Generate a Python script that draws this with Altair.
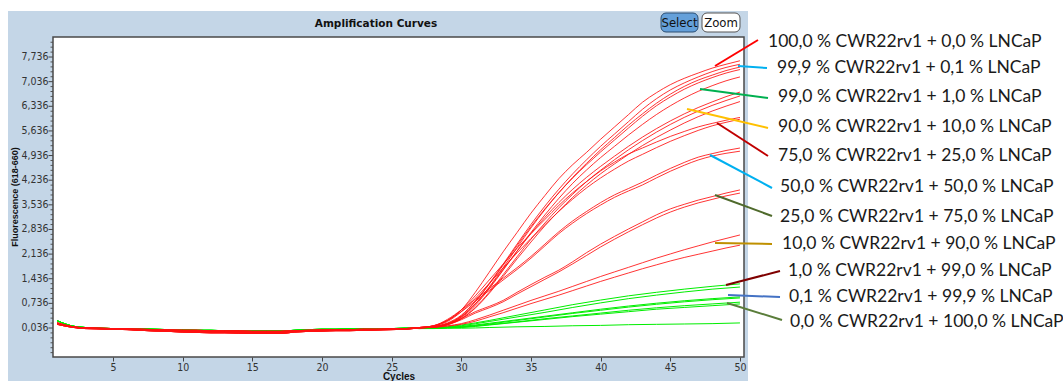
import altair as alt
import pandas as pd

# ---------------- data ----------------
cyc_base = list(range(1, 27))
cyc_red_tail = list(range(27, 51))
cyc_green_tail = [27, 28, 29, 30, 32, 34, 36, 38, 40, 42, 44, 46, 48, 50]

base_red_a = [0.18, 0.08, 0.04, 0.03, 0.02, 0.01, 0.0, -0.01, -0.02, -0.03, -0.03, -0.04, -0.05,
              -0.05, -0.06, -0.06, -0.06, -0.04, -0.03, -0.02, -0.01, -0.01, 0.0, 0.0, 0.01, 0.02]
base_red_b = [0.14, 0.06, 0.02, 0.01, 0.0, -0.01, -0.03, -0.05, -0.06, -0.08, -0.09, -0.1, -0.1,
              -0.11, -0.12, -0.12, -0.12, -0.08, -0.06, -0.05, -0.04, -0.04, -0.03, -0.02, -0.01, 0.0]
base_red_c = [0.16, 0.07, 0.03, 0.02, 0.01, 0.0, -0.02, -0.03, -0.04, -0.05, -0.06, -0.07, -0.07,
              -0.08, -0.09, -0.09, -0.09, -0.06, -0.05, -0.04, -0.03, -0.02, -0.02, -0.01, 0.0, 0.01]
base_green = [0.24, 0.1, 0.05, 0.03, 0.02, 0.02, 0.01, 0.0, -0.01, -0.02, -0.03, -0.03, -0.04,
              -0.04, -0.05, -0.05, -0.05, -0.03, -0.01, 0.0, 0.0, 0.01, 0.01, 0.02, 0.02, 0.03]

red_T1 = [0.05, 0.1, 0.25, 0.55, 1.05, 1.62, 2.2, 2.75, 3.3, 3.8, 4.28, 4.68, 5.03, 5.4, 5.75, 6.1, 6.45, 6.72, 6.95, 7.13, 7.28, 7.42, 7.53, 7.63]
red_T2 = [0.04, 0.08, 0.18, 0.4, 0.8, 1.3, 1.85, 2.42, 2.98, 3.5, 3.98, 4.42, 4.82, 5.2, 5.55, 5.9, 6.25, 6.55, 6.8, 7.0, 7.17, 7.32, 7.44, 7.53]
red_T3 = [0.04, 0.07, 0.15, 0.35, 0.72, 1.2, 1.75, 2.32, 2.88, 3.4, 3.88, 4.32, 4.72, 5.1, 5.45, 5.8, 6.12, 6.42, 6.68, 6.9, 7.08, 7.22, 7.35, 7.45]
red_T4 = [0.05, 0.07, 0.16, 0.38, 0.78, 1.28, 1.82, 2.38, 2.92, 3.42, 3.88, 4.3, 4.68, 5.04, 5.38, 5.72, 6.05, 6.35, 6.6, 6.82, 7.0, 7.15, 7.28, 7.38]
red_T5 = [0.04, 0.06, 0.14, 0.33, 0.68, 1.15, 1.68, 2.22, 2.75, 3.25, 3.72, 4.15, 4.53, 4.88, 5.2, 5.52, 5.82, 6.1, 6.35, 6.57, 6.76, 6.92, 7.06, 7.17]
red_T6 = [0.05, 0.07, 0.16, 0.36, 0.72, 1.18, 1.7, 2.22, 2.72, 3.18, 3.6, 3.98, 4.32, 4.63, 4.92, 5.2, 5.46, 5.7, 5.92, 6.12, 6.3, 6.46, 6.61, 6.74]
red_T7 = [0.04, 0.06, 0.13, 0.3, 0.62, 1.05, 1.55, 2.06, 2.56, 3.02, 3.45, 3.84, 4.2, 4.52, 4.82, 5.1, 5.36, 5.6, 5.82, 6.02, 6.2, 6.36, 6.5, 6.63]
red_T8 = [0.04, 0.06, 0.13, 0.3, 0.6, 1.02, 1.5, 2.0, 2.48, 2.94, 3.36, 3.75, 4.1, 4.42, 4.7, 4.97, 5.22, 5.45, 5.66, 5.86, 6.04, 6.2, 6.34, 6.47]
red_75A = [0.05, 0.1, 0.25, 0.55, 0.95, 1.4, 1.85, 2.3, 2.72, 3.12, 3.52, 3.88, 4.2, 4.5, 4.75, 4.98, 5.15, 5.32, 5.48, 5.62, 5.75, 5.85, 5.94, 6.02]
red_75B = [0.05, 0.09, 0.22, 0.5, 0.88, 1.3, 1.74, 2.17, 2.58, 2.97, 3.35, 3.7, 4.02, 4.3, 4.55, 4.78, 4.97, 5.16, 5.34, 5.5, 5.65, 5.78, 5.88, 5.97]
red_50A = [0.05, 0.1, 0.28, 0.55, 0.85, 1.15, 1.45, 1.75, 2.07, 2.42, 2.77, 3.08, 3.35, 3.6, 3.82, 4.0, 4.18, 4.38, 4.57, 4.74, 4.89, 4.99, 5.08, 5.15]
red_50B = [0.05, 0.09, 0.25, 0.5, 0.8, 1.1, 1.4, 1.7, 2.02, 2.37, 2.72, 3.02, 3.29, 3.53, 3.75, 3.93, 4.1, 4.3, 4.49, 4.66, 4.81, 4.92, 5.0, 5.06]
red_25A = [0.04, 0.07, 0.15, 0.3, 0.5, 0.65, 0.82, 1.05, 1.27, 1.48, 1.68, 1.92, 2.18, 2.42, 2.64, 2.85, 3.05, 3.25, 3.42, 3.55, 3.67, 3.77, 3.87, 3.96]
red_25B = [0.04, 0.06, 0.13, 0.27, 0.46, 0.61, 0.78, 1.0, 1.21, 1.42, 1.63, 1.86, 2.1, 2.34, 2.56, 2.77, 2.97, 3.16, 3.33, 3.47, 3.59, 3.69, 3.79, 3.87]
red_10A = [0.04, 0.06, 0.1, 0.16, 0.27, 0.4, 0.54, 0.68, 0.82, 0.95, 1.08, 1.22, 1.36, 1.5, 1.63, 1.76, 1.89, 2.02, 2.14, 2.26, 2.37, 2.48, 2.58, 2.68]
red_10B = [0.04, 0.05, 0.09, 0.14, 0.23, 0.35, 0.47, 0.6, 0.73, 0.85, 0.97, 1.1, 1.23, 1.36, 1.48, 1.6, 1.72, 1.83, 1.94, 2.04, 2.13, 2.22, 2.31, 2.39]

green_G1 = [0.03, 0.04, 0.07, 0.12, 0.25, 0.4, 0.55, 0.7, 0.83, 0.95, 1.05, 1.14, 1.22, 1.29]
green_G2 = [0.03, 0.04, 0.06, 0.1, 0.22, 0.35, 0.48, 0.62, 0.75, 0.87, 0.97, 1.06, 1.14, 1.2]
green_G3 = [0.03, 0.04, 0.05, 0.08, 0.17, 0.27, 0.37, 0.47, 0.57, 0.66, 0.74, 0.81, 0.87, 0.92]
green_G4 = [0.03, 0.03, 0.05, 0.07, 0.15, 0.25, 0.35, 0.45, 0.54, 0.63, 0.71, 0.78, 0.84, 0.89]
green_G5 = [0.02, 0.03, 0.04, 0.06, 0.13, 0.21, 0.3, 0.38, 0.46, 0.54, 0.61, 0.67, 0.72, 0.77]
green_G6 = [0.02, 0.03, 0.04, 0.05, 0.12, 0.2, 0.28, 0.36, 0.43, 0.5, 0.57, 0.62, 0.67, 0.72]
green_G7 = [0.02, 0.02, 0.03, 0.03, 0.05, 0.07, 0.08, 0.1, 0.11, 0.13, 0.14, 0.15, 0.16, 0.18]

red_tails = [red_T1, red_T2, red_T3, red_T4, red_T5, red_T6, red_T7, red_T8,
             red_75A, red_75B, red_50A, red_50B, red_25A, red_25B, red_10A, red_10B]
red_bases = [base_red_a, base_red_b, base_red_c]
green_tails = [green_G1, green_G2, green_G3, green_G4, green_G5, green_G6, green_G7]

y_tick_values = [0.036, 0.736, 1.436, 2.136, 2.836, 3.536, 4.236, 4.936, 5.636, 6.336, 7.036, 7.736]
y_tick_labels = ["0,036", "0,736", "1,436", "2,136", "2,836", "3,536", "4,236", "4,936",
                 "5,636", "6,336", "7,036", "7,736"]
x_tick_values = [5, 10, 15, 20, 25, 30, 35, 40, 45, 50]

legend_labels = [
    "100,0 % CWR22rv1 + 0,0 % LNCaP",
    "99,9 % CWR22rv1 + 0,1 % LNCaP",
    "99,0 % CWR22rv1 + 1,0 % LNCaP",
    "90,0 % CWR22rv1 + 10,0 % LNCaP",
    "75,0 % CWR22rv1 + 25,0 % LNCaP",
    "50,0 % CWR22rv1 + 50,0 % LNCaP",
    "25,0 % CWR22rv1 + 75,0 % LNCaP",
    "10,0 % CWR22rv1 + 90,0 % LNCaP",
    "1,0 % CWR22rv1 + 99,0 % LNCaP",
    "0,1 % CWR22rv1 + 99,9 % LNCaP",
    "0,0 % CWR22rv1 + 100,0 % LNCaP",
]
leader_colors = ["#ff0000", "#00b0f0", "#00b050", "#ffc000", "#c00000", "#00b0f0",
                 "#4f6a2c", "#bf9000", "#7f0000", "#4472c4", "#5a7d3a"]

# ---------------- layout (pixels) ----------------
OX, OY = 53, 37
W, H = 691, 320
label_xy = [(768, 42), (777, 68), (778, 97), (778, 127), (778, 156), (780, 187),
            (780, 217), (782, 244), (788, 271), (789, 297), (790, 322)]
leader_xy = [((715, 66), (758, 40)), ((738, 66), (767, 68)), ((700, 89), (768, 98)),
             ((687, 109), (768, 128)), ((717, 123), (768, 156)), ((710, 155), (772, 188)),
             ((715, 195), (772, 216)), ((715, 243), (772, 244)), ((726, 285), (780, 271)),
             ((728, 295), (780, 297)), ((727, 303), (782, 320))]

# ---------------- tables ----------------
rows = []
for i, tail in enumerate(green_tails):
    for c, v in zip(cyc_base + cyc_green_tail, base_green + tail):
        rows.append({"curve": f"g{i}", "cycle": c, "value": v})
green_df = pd.DataFrame(rows)

rows = []
for i, tail in enumerate(red_tails):
    base = red_bases[i % 3]
    for c, v in zip(cyc_base + cyc_red_tail, base + tail):
        rows.append({"curve": f"r{i}", "cycle": c, "value": v})
red_df = pd.DataFrame(rows)

minor_vals = [round(-0.664 + 0.14 * k, 3) for k in range(64)]
minor_vals = [v for v in minor_vals if v < 8.3 and all(abs(v - t) > 1e-6 for t in y_tick_values)]
minor_df = pd.DataFrame({"v": minor_vals})
ytick_df = pd.DataFrame({"v": y_tick_values, "lab": y_tick_labels})

label_df = pd.DataFrame({
    "text": legend_labels,
    "px": [p[0] - OX for p in label_xy],
    "py": [p[1] - OY for p in label_xy],
})
leader_df = pd.DataFrame({
    "x1": [a[0] - OX for a, b in leader_xy], "y1": [a[1] - OY for a, b in leader_xy],
    "x2": [b[0] - OX for a, b in leader_xy], "y2": [b[1] - OY for a, b in leader_xy],
    "col": leader_colors,
})
one = pd.DataFrame({"a": [0]})

x_scale = alt.Scale(domain=[0.69, 50.29], nice=False, zero=False)
y_scale = alt.Scale(domain=[-0.788, 8.305], nice=False, zero=False)

narrow = "Liberation Sans Narrow, Arial Narrow, DejaVu Sans Condensed, Liberation Sans"

panel = alt.Chart(one).mark_rect(color="#c4d6e7").encode(
    x=alt.value(8 - OX), x2=alt.value(748 - OX), y=alt.value(11 - OY), y2=alt.value(381 - OY))
plot_bg = alt.Chart(one).mark_rect(color="white").encode(
    x=alt.value(0), x2=alt.value(W), y=alt.value(0), y2=alt.value(H))

x_axis = alt.Axis(values=x_tick_values, format="d", labelFont=narrow, labelFontSize=10.5,
                  labelColor="#333", tickColor="#444", tickSize=4, labelPadding=1, domain=False,
                  grid=False, labelOverlap=False, title="Cycles", titleFont="Liberation Sans",
                  titleFontSize=10, titleFontWeight="bold", titleColor="#111",
                  titleBaseline="middle", titleY=19, zindex=1)

green_lines = alt.Chart(green_df).mark_line(strokeWidth=1, interpolate="monotone", color="#00ee00").encode(
    x=alt.X("cycle:Q", scale=x_scale, axis=x_axis),
    y=alt.Y("value:Q", scale=y_scale, axis=None),
    detail="curve:N", order="cycle:Q")
red_lines = alt.Chart(red_df).mark_line(strokeWidth=1, interpolate="monotone", color="#ff1010", opacity=0.85).encode(
    x=alt.X("cycle:Q", scale=x_scale, axis=x_axis),
    y=alt.Y("value:Q", scale=y_scale, axis=None),
    detail="curve:N", order="cycle:Q")

# y axis drawn with marks (major ticks + labels, minor ticks)
minor = alt.Chart(minor_df).mark_rule(color="#555", strokeWidth=1).encode(
    y=alt.Y("v:Q", scale=y_scale, axis=None), x=alt.value(-2.5), x2=alt.value(0))
major = alt.Chart(ytick_df).mark_rule(color="#444", strokeWidth=1).encode(
    y=alt.Y("v:Q", scale=y_scale, axis=None), x=alt.value(-4.5), x2=alt.value(0))
ylabels = alt.Chart(ytick_df).mark_text(font=narrow, fontSize=10.5, color="#333",
                                        align="right", baseline="middle").encode(
    y=alt.Y("v:Q", scale=y_scale, axis=None), x=alt.value(-4.5), text="lab:N")
ytitle = alt.Chart(one).mark_text(text="Fluorescence (618-660)", font="Liberation Sans", fontSize=9,
                                  fontWeight="bold", color="#111", angle=270,
                                  align="center", baseline="middle").encode(
    x=alt.value(15 - OX), y=alt.value(197 - OY))

border = alt.Chart(one).mark_rect(fill=None, stroke="#4a4a4a", strokeWidth=1.5).encode(
    x=alt.value(0), x2=alt.value(W), y=alt.value(0), y2=alt.value(H))

title = alt.Chart(one).mark_text(text="Amplification Curves", font="DejaVu Sans", fontSize=10.5,
                                 fontWeight="bold", align="center", baseline="middle", color="#111").encode(
    x=alt.value(376 - OX), y=alt.value(24 - OY))

btn_sel = alt.Chart(one).mark_rect(fill="#64a0da", stroke="#2c4f73", strokeWidth=1, cornerRadius=5).encode(
    x=alt.value(661 - OX), x2=alt.value(698 - OX), y=alt.value(13 - OY), y2=alt.value(32 - OY))
btn_zoom = alt.Chart(one).mark_rect(fill="white", stroke="#555", strokeWidth=1, cornerRadius=5).encode(
    x=alt.value(702 - OX), x2=alt.value(740 - OX), y=alt.value(13 - OY), y2=alt.value(32 - OY))
txt_sel = alt.Chart(one).mark_text(text="Select", font=narrow, fontSize=13, color="#111",
                                   align="center", baseline="middle").encode(
    x=alt.value(679.5 - OX), y=alt.value(23 - OY))
txt_zoom = alt.Chart(one).mark_text(text="Zoom", font=narrow, fontSize=13, color="#111",
                                    align="center", baseline="middle").encode(
    x=alt.value(721 - OX), y=alt.value(23 - OY))

leaders = alt.Chart(leader_df).mark_rule(strokeWidth=2).encode(
    x=alt.X("x1:Q", scale=None, axis=None), x2="x2:Q",
    y=alt.Y("y1:Q", scale=None, axis=None), y2="y2:Q",
    color=alt.Color("col:N", scale=None, legend=None))

labels = alt.Chart(label_df).mark_text(font="Lato", fontSize=17.5, color="#1a1a1a",
                                       align="left", baseline="middle").encode(
    x=alt.X("px:Q", scale=None, axis=None),
    y=alt.Y("py:Q", scale=None, axis=None),
    text="text:N")

chart = alt.layer(
    panel, plot_bg, green_lines, red_lines, minor, major, ylabels, ytitle, border, title,
    btn_sel, btn_zoom, txt_sel, txt_zoom, leaders, labels
).properties(
    width=W, height=H,
    autosize=alt.AutoSizeParams(type="none"),
    padding={"left": OX, "top": OY, "right": 1063 - OX - W, "bottom": 381 - OY - H},
    background="white",
).configure_view(stroke=None)

chart.save("out.html", embed_options={"renderer": "svg", "actions": False})
